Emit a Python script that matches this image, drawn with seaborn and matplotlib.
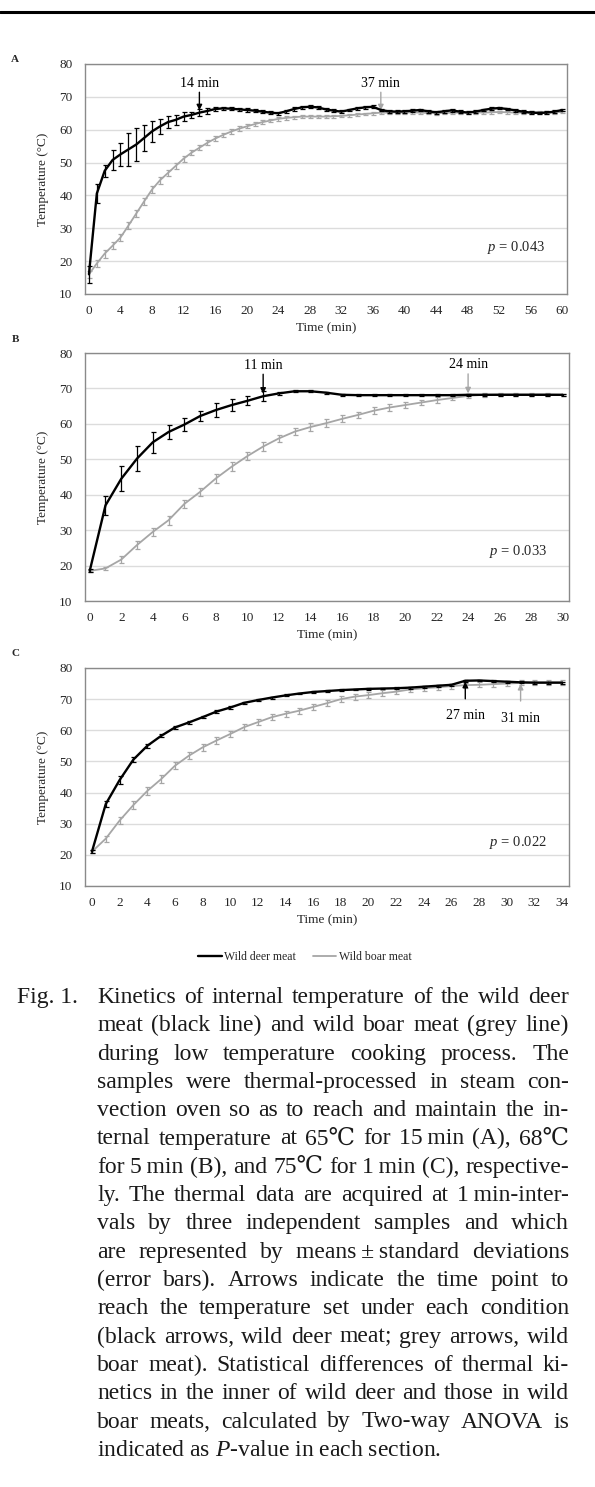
import numpy as np
import matplotlib
matplotlib.use('Agg')
import matplotlib.pyplot as plt
import seaborn as sns
from matplotlib.lines import Line2D

# ---------------- data ----------------
minutes_a = np.arange(0, 61)
deer_a = [16.0, 40.6, 47.5, 50.8, 52.5, 54.0, 55.5, 57.5, 59.5, 61.0,
          62.3, 63.0, 64.0, 64.5, 65.2, 65.7, 66.3, 66.5, 66.4, 66.2,
          66.0, 65.8, 65.5, 65.2, 65.0, 65.6, 66.3, 66.8, 67.0, 66.8,
          66.2, 65.8, 65.5, 66.0, 66.5, 66.8, 67.0, 66.0, 65.6, 65.5,
          65.6, 65.8, 66.0, 65.6, 65.3, 65.6, 65.9, 65.5, 65.2, 65.5,
          66.0, 66.4, 66.6, 66.3, 65.9, 65.5, 65.2, 65.1, 65.2, 65.5,
          66.0]
deer_a_sd = [2.5, 3.0, 1.8, 3.0, 3.5, 5.0, 5.0, 4.0, 3.3, 2.4,
             1.8, 1.5, 1.3, 1.0, 1.0, 0.8, 0.6, 0.5, 0.5, 0.5,
             0.5, 0.5, 0.5, 0.5, 0.5, 0.5, 0.5, 0.5, 0.5, 0.5,
             0.5, 0.4, 0.4, 0.4, 0.4, 0.4, 0.4, 0.4, 0.4, 0.4,
             0.4, 0.4, 0.4, 0.4, 0.4, 0.4, 0.4, 0.4, 0.4, 0.4,
             0.4, 0.4, 0.4, 0.4, 0.4, 0.4, 0.4, 0.4, 0.4, 0.4,
             0.4]
boar_a = [16.0, 19.3, 22.3, 24.7, 27.2, 30.8, 34.5, 38.2, 41.8, 44.6,
          46.8, 49.0, 51.2, 53.0, 54.5, 56.0, 57.3, 58.4, 59.4, 60.3,
          61.0, 61.7, 62.3, 62.8, 63.3, 63.6, 63.8, 64.0, 64.0, 64.0,
          64.0, 64.1, 64.2, 64.4, 64.6, 64.8, 65.0, 65.2, 65.2, 65.3,
          65.2, 65.3, 65.2, 65.1, 65.0, 65.1, 65.2, 65.2, 65.3, 65.3,
          65.2, 65.3, 65.4, 65.3, 65.2, 65.2, 65.3, 65.3, 65.2, 65.3,
          65.4]
boar_a_sd = [1.0, 1.0, 1.2, 1.0, 1.0, 1.0, 1.0, 1.0, 1.2, 1.0,
             1.0, 1.0, 0.9, 0.8, 0.8, 0.8, 0.7, 0.7, 0.7, 0.7,
             0.6, 0.6, 0.6, 0.6, 0.6, 0.5, 0.5, 0.5, 0.5, 0.5,
             0.5, 0.4, 0.4, 0.4, 0.4, 0.4, 0.4, 0.4, 0.4, 0.4,
             0.4, 0.4, 0.4, 0.4, 0.4, 0.4, 0.4, 0.4, 0.4, 0.4,
             0.4, 0.4, 0.4, 0.4, 0.4, 0.4, 0.4, 0.4, 0.4, 0.4,
             0.4]

minutes_b = np.arange(0, 31)
deer_b = [18.5, 37.0, 44.5, 50.2, 54.8, 57.7, 59.8, 62.2, 63.9, 65.3,
          66.5, 67.8, 68.6, 69.2, 69.2, 68.8, 68.2, 68.1, 68.1, 68.1,
          68.1, 68.1, 68.1, 68.1, 68.2, 68.2, 68.2, 68.2, 68.2, 68.2,
          68.2]
deer_b_sd = [0.4, 2.6, 3.5, 3.5, 3.0, 2.1, 1.9, 1.3, 2.0, 1.6,
             1.3, 1.4, 0.5, 0.3, 0.3, 0.3, 0.3, 0.3, 0.3, 0.3,
             0.3, 0.3, 0.3, 0.3, 0.3, 0.3, 0.3, 0.3, 0.3, 0.3,
             0.3]
boar_b = [18.5, 19.2, 21.7, 25.8, 29.5, 32.8, 37.4, 40.8, 44.6, 47.9,
          50.9, 53.6, 55.9, 57.8, 59.1, 60.2, 61.4, 62.5, 63.7, 64.6,
          65.3, 66.0, 66.7, 67.3, 67.9, 68.2, 68.3, 68.3, 68.3, 68.3,
          68.2]
boar_b_sd = [0.3, 0.5, 1.0, 1.2, 1.2, 1.3, 1.2, 1.2, 1.3, 1.2,
             1.2, 1.2, 1.0, 1.0, 1.2, 1.2, 1.0, 0.9, 1.0, 0.9,
             0.8, 0.8, 0.8, 0.7, 0.6, 0.5, 0.5, 0.5, 0.4, 0.4,
             0.3]

minutes_c = np.arange(0, 35)
deer_c = [21.0, 36.3, 44.0, 50.6, 55.0, 58.2, 60.9, 62.5, 64.2, 66.0,
          67.3, 68.8, 69.7, 70.5, 71.2, 71.8, 72.3, 72.6, 72.9, 73.1,
          73.3, 73.4, 73.5, 73.7, 74.0, 74.3, 74.6, 75.9, 76.0, 75.8,
          75.6, 75.4, 75.3, 75.3, 75.3]
deer_c_sd = [0.5, 1.0, 1.2, 0.8, 0.6, 0.5, 0.5, 0.4, 0.4, 0.4,
             0.4, 0.4, 0.3, 0.3, 0.3, 0.3, 0.3, 0.3, 0.3, 0.3,
             0.3, 0.3, 0.3, 0.3, 0.3, 0.3, 0.3, 0.3, 0.3, 0.3,
             0.3, 0.3, 0.3, 0.3, 0.3]
boar_c = [21.0, 25.2, 31.0, 36.0, 40.5, 44.3, 48.6, 51.8, 54.5, 56.7,
          58.8, 61.0, 62.6, 64.2, 65.3, 66.3, 67.5, 68.7, 70.0, 70.8,
          71.3, 71.9, 72.4, 73.1, 73.5, 73.8, 74.2, 74.5, 74.6, 74.8,
          75.0, 75.2, 75.3, 75.3, 75.3]
boar_c_sd = [0.5, 1.0, 1.2, 1.2, 1.2, 1.2, 1.1, 1.1, 1.0, 1.0,
             1.0, 1.0, 1.0, 1.0, 1.0, 1.0, 1.0, 1.0, 1.0, 1.0,
             0.9, 0.9, 0.9, 0.9, 0.8, 0.8, 0.8, 0.8, 0.8, 0.8,
             0.8, 0.8, 0.7, 0.7, 0.7]

panel_labels = ['A', 'B', 'C']
reach_deer = [14, 11, 27]
reach_boar = [37, 24, 31]
p_values = ['0.043', '0.033', '0.022']
x_tick_steps = [4, 2, 2]
series_names = ['Wild deer meat', 'Wild boar meat']

caption_lines = [
    "Kinetics of internal temperature of the wild deer",
    "meat (black line) and wild boar meat (grey line)",
    "during low temperature cooking process. The",
    "samples were thermal-processed in steam con-",
    "vection oven so as to reach and maintain the in-",
    "ternal temperature at 65\u2103 for 15_min (A), 68\u2103",
    "for 5_min (B), and 75\u2103 for 1_min (C), respective-",
    "ly. The thermal data are acquired at 1_min-inter-",
    "vals by three independent samples and which",
    "are represented by means\u2009\u00b1\u2009standard deviations",
    "(error bars). Arrows indicate the time point to",
    "reach the temperature set under each condition",
    "(black arrows, wild deer meat; grey arrows, wild",
    "boar meat). Statistical differences of thermal ki-",
    "netics in the inner of wild deer and those in wild",
    "boar meats, calculated by Two-way ANOVA is",
    "indicated as $\\mathit{P}$-value in each section.",
]

# ---------------- style ----------------
sns.set_theme(style='white')
plt.rcParams['font.family'] = ['Liberation Serif', 'DejaVu Serif', 'DejaVu Sans']
plt.rcParams['mathtext.fontset'] = 'custom'
plt.rcParams['mathtext.rm'] = 'Liberation Serif'
plt.rcParams['mathtext.it'] = 'Liberation Serif:italic'

W, H = 595, 1487
DEER_C = 'black'
BOAR_C = '#a6a6a6'

fig = plt.figure(figsize=(W / 100, H / 100), dpi=100)

# top rule
fig.add_artist(Line2D([0, 1], [1 - 12 / H, 1 - 12 / H], color='black', lw=2.2,
                      transform=fig.transFigure))

# axes boxes in pixels: left, right, top, bottom
boxes = [(85, 567, 64, 294), (85, 569, 353, 601), (85, 569, 668, 886)]
xlims = [(-0.5, 60.6), (-0.3, 30.4), (-0.5, 34.5)]
letter_y = [60, 340, 654]

datasets = [
    (minutes_a, deer_a, deer_a_sd, boar_a, boar_a_sd),
    (minutes_b, deer_b, deer_b_sd, boar_b, boar_b_sd),
    (minutes_c, deer_c, deer_c_sd, boar_c, boar_c_sd),
]

legend_lines = []
for i, (mins, deer, deer_sd, boar, boar_sd) in enumerate(datasets):
    l, r, t, b = boxes[i]
    ax = fig.add_axes([l / W, 1 - b / H, (r - l) / W, (b - t) / H])

    ax.errorbar(mins, boar, yerr=boar_sd, fmt='none', ecolor=BOAR_C,
                elinewidth=0.9, capsize=1.8, capthick=0.9, zorder=2)
    sns.lineplot(x=mins, y=boar, color=BOAR_C, lw=1.3, ax=ax, zorder=3)
    boar_line = ax.lines[-1]
    ax.errorbar(mins, deer, yerr=deer_sd, fmt='none', ecolor=DEER_C,
                elinewidth=0.9, capsize=1.8, capthick=0.9, zorder=4)
    sns.lineplot(x=mins, y=deer, color=DEER_C, lw=1.7, ax=ax, zorder=5)
    deer_line = ax.lines[-1]
    legend_lines = [deer_line, boar_line]

    ax.set_xlim(*xlims[i])
    ax.set_ylim(10, 80)
    ax.set_yticks(range(10, 81, 10))
    ax.set_xticks(np.arange(0, mins[-1] + 1, x_tick_steps[i]))
    ax.set_xticks(mins, minor=True)
    ax.yaxis.grid(True, color='#dcdcdc', lw=1.0)
    ax.xaxis.grid(False)
    ax.set_axisbelow(True)
    for sp in ax.spines.values():
        sp.set_color('#8a8a8a')
        sp.set_linewidth(1.0)
    ax.tick_params(axis='x', which='both', direction='in', length=3,
                   width=0.8, color='#666666', labelsize=9.5, pad=8)
    ax.tick_params(axis='y', length=0, labelsize=9.5, pad=9)
    ax.set_xlabel('Time (min)', fontsize=9.5, labelpad=4)
    ax.set_ylabel('Temperature (\u00b0C)', fontsize=9.5, labelpad=7)

    # arrows marking the time the set temperature was reached
    td, tb = reach_deer[i], reach_boar[i]
    if i < 2:
        for tm, vals, col in [(td, deer, DEER_C), (tb, boar, BOAR_C)]:
            v = vals[tm]
            ax.annotate('', xy=(tm, v + 0.7), xytext=(tm, v + 6.2),
                        arrowprops=dict(arrowstyle='-|>', color=col, lw=1.0,
                                        mutation_scale=8, shrinkA=0, shrinkB=0))
            ax.text(tm, v + 8.8, f'{tm} min', ha='center', va='center',
                    fontsize=10, color='black')
    else:
        for tm, vals, col in [(td, deer, DEER_C), (tb, boar, BOAR_C)]:
            v = vals[tm]
            ax.annotate('', xy=(tm, v - 0.3), xytext=(tm, v - 5.8),
                        arrowprops=dict(arrowstyle='-|>', color=col, lw=1.0,
                                        mutation_scale=8, shrinkA=0, shrinkB=0))
            ax.text(tm, v - 11.3, f'{tm} min', ha='center', va='center',
                    fontsize=10, color='black')

    ax.text(0.955, 0.2, f'$\\mathit{{p}}$ = {p_values[i]}', transform=ax.transAxes,
            ha='right', va='center', fontsize=10.5)

    fig.text(15 / W, 1 - letter_y[i] / H, panel_labels[i], fontsize=8,
             fontweight='bold', ha='center', va='center')

fig.legend(handles=legend_lines, labels=series_names, loc='center',
           bbox_to_anchor=(305 / W, 1 - 957 / H), ncol=2, frameon=False,
           fontsize=8.5, handlelength=2.0, handletextpad=0.2, columnspacing=1.4)

# ---------------- caption (justified) ----------------
CAP_FS = 17
x0_px, x1_px = 97, 569
base0, step = 1003, 28.3
fig.text(17 / W, 1 - base0 / H, 'Fig. 1.', fontsize=CAP_FS, va='baseline',
         color='#1a1a1a')
renderer = fig.canvas.get_renderer()
for k, line in enumerate(caption_lines):
    y = 1 - (base0 + k * step) / H
    if k == len(caption_lines) - 1:
        fig.text(x0_px / W, y, line, fontsize=CAP_FS, va='baseline', color='#1a1a1a')
        continue
    words = [w.replace('_', '\u2009') for w in line.split(' ')]
    texts = [fig.text(0, y, w, fontsize=CAP_FS, va='baseline', color='#1a1a1a')
             for w in words]
    widths = [tx.get_window_extent(renderer).width for tx in texts]
    gap = (x1_px - x0_px - sum(widths)) / max(len(words) - 1, 1)
    x = x0_px
    for tx, wd in zip(texts, widths):
        tx.set_x(x / W)
        x += wd + gap

fig.savefig('out.png', dpi=100)
